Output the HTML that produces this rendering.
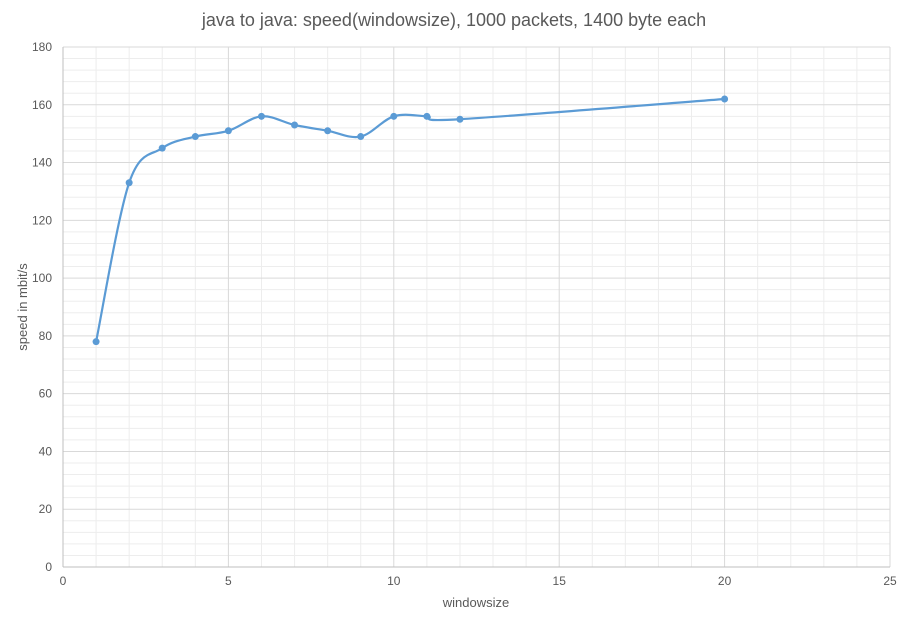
<!DOCTYPE html>
<html><head><meta charset="utf-8"><style>
body{margin:0;background:#fff;}
svg{display:block;font-family:"Liberation Sans",sans-serif;}
</style></head><body>
<svg id="chart" width="908" height="625" viewBox="0 0 908 625">
<text x="454" y="26" text-anchor="middle" font-size="18" fill="#595959">java to java: speed(windowsize), 1000 packets, 1400 byte each</text>
<g id="grid"></g><g id="axes"></g><g id="series"></g>
<text x="476" y="607" text-anchor="middle" font-size="13" fill="#595959">windowsize</text>
<text transform="translate(27,307) rotate(-90)" text-anchor="middle" font-size="13" fill="#595959">speed in mbit/s</text>
</svg>
<script>
const xValues=[1,2,3,4,5,6,7,8,9,10,11,12,20];
const yValues=[78,133,145,149,151,156,153,151,149,156,156,155,162];
const xTicks=[0,5,10,15,20,25];
const yTicks=[0,20,40,60,80,100,120,140,160,180];
const X0=63,X1=890,Y0=567,Y1=47;
const sx=v=>X0+(v-0)/25*(X1-X0);
const sy=v=>Y0-(v-0)/180*(Y0-Y1);
const NS="http://www.w3.org/2000/svg";
function mk(t,a,p){const e=document.createElementNS(NS,t);for(const k in a)e.setAttribute(k,a[k]);p.appendChild(e);return e;}
const grid=document.getElementById('grid'),axes=document.getElementById('axes'),ser=document.getElementById('series');
for(let v=1;v<25;v++){if(v%5===0)continue;const l=mk('line',{x1:sx(v),x2:sx(v),y1:Y1,y2:Y0,stroke:'#ededed','stroke-width':1},grid);

}
for(let v=4;v<180;v+=4){if(v%20===0)continue;const l=mk('line',{x1:X0,x2:X1,y1:sy(v),y2:sy(v),stroke:'#ededed','stroke-width':1},grid);

}
xTicks.forEach(v=>{if(v>0){const l=mk('line',{x1:sx(v),x2:sx(v),y1:Y1,y2:Y0,stroke:'#d9d9d9','stroke-width':1},grid);

}
const t=mk('text',{x:sx(v),y:Y0+18,'text-anchor':'middle','font-size':12,fill:'#595959'},axes);t.textContent=v;

});
yTicks.forEach(v=>{if(v>0){const l=mk('line',{x1:X0,x2:X1,y1:sy(v),y2:sy(v),stroke:'#d9d9d9','stroke-width':1},grid);

}
const t=mk('text',{x:X0-11,y:sy(v)+4,'text-anchor':'end','font-size':12,fill:'#595959'},axes);t.textContent=v;

});
const ax=mk('line',{x1:X0,x2:X0,y1:Y1,y2:Y0,stroke:'#bfbfbf'},axes);


const bx=mk('line',{x1:X0,x2:X1,y1:Y0,y2:Y0,stroke:'#bfbfbf'},axes);


const pts=xValues.map((x,i)=>[sx(x),sy(yValues[i])]);
let d=`M${pts[0][0]},${pts[0][1]}`;const k=1/6;
for(let i=0;i<pts.length-1;i++){const p0=pts[Math.max(0,i-1)],p1=pts[i],p2=pts[i+1],p3=pts[Math.min(pts.length-1,i+2)];
d+=` C${p1[0]+(p2[0]-p0[0])*k},${p1[1]+(p2[1]-p0[1])*k} ${p2[0]-(p3[0]-p1[0])*k},${p2[1]-(p3[1]-p1[1])*k} ${p2[0]},${p2[1]}`;}
const path=mk('path',{d:d,fill:'none',stroke:'#5b9bd5','stroke-width':2.2},ser);


pts.forEach(p=>{const c=mk('circle',{cx:p[0],cy:p[1],r:3.5,fill:'#5b9bd5'},ser);

});
</script>
</body></html>
